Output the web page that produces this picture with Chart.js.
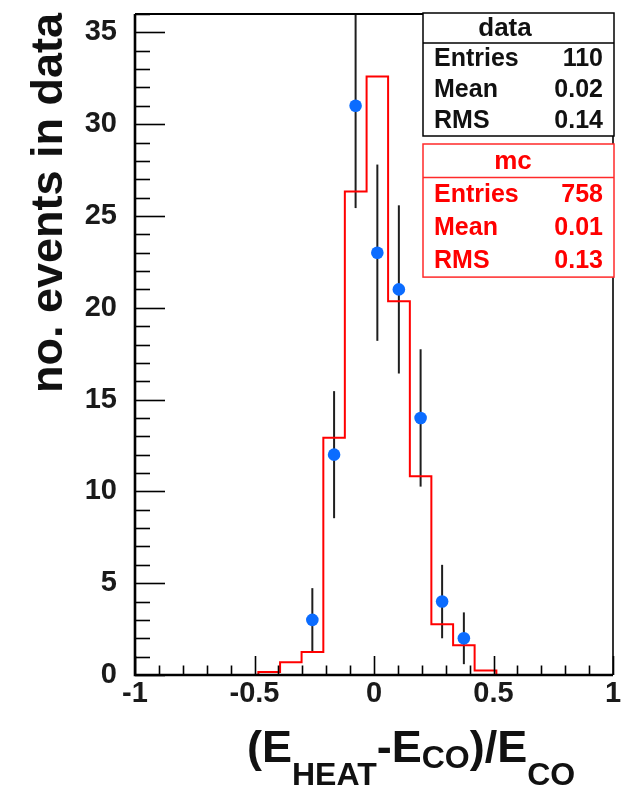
<!DOCTYPE html>
<html>
<head>
<meta charset="utf-8">
<script src="https://cdn.jsdelivr.net/npm/chart.js@4/dist/chart.umd.min.js"></script>
<style>
  html, body { margin: 0; padding: 0; background: #fff; }
  #wrap { width: 632px; height: 788px; }
</style>
</head>
<body>
<div id="wrap"><canvas id="histo" width="632" height="788"></canvas></div>
<script>
// measured events per bin (bin centres) with their statistical errors
const dataX = [-0.258, -0.167, -0.077, 0.014, 0.104, 0.195, 0.285, 0.376];
const dataCounts = [3, 12, 31, 23, 21, 14, 4, 2];
const dataErrors = [1.73, 3.46, 5.57, 4.80, 4.58, 3.74, 2.00, 1.41];

// simulation, scaled to the data: bin edges and the content between them
const mcEdges = [-1.03, -0.484, -0.393, -0.303, -0.212, -0.122, -0.031, 0.059, 0.150, 0.240, 0.331, 0.421, 0.512, 0.87];
const mcCounts = [0, 0.17, 0.70, 1.25, 12.92, 26.33, 32.6, 20.35, 10.83, 2.77, 1.62, 0.25, 0];

const xTicks = [-1, -0.5, 0, 0.5, 1];
const yTicks = [0, 5, 10, 15, 20, 25, 30, 35];

const dataStats = [['Entries', '110'], ['Mean', '0.02'], ['RMS', '0.14']];
const mcStats = [['Entries', '758'], ['Mean', '0.01'], ['RMS', '0.13']];

const FONT = '"Liberation Sans", Arial, Helvetica, sans-serif';
const BLUE = '#0b6cff';
const RED = '#ff0000';

// error bars go under the markers and the mc line
const errorBars = {
    id: 'errorBars',
    beforeDatasetsDraw(chart) {
        const { ctx, chartArea, scales: { x, y } } = chart;
        ctx.save();
        ctx.beginPath();
        ctx.rect(chartArea.left, chartArea.top, chartArea.right - chartArea.left, chartArea.bottom - chartArea.top);
        ctx.clip();
        ctx.strokeStyle = '#1e1e1e';
        ctx.lineWidth = 2;
        dataX.forEach((xv, i) => {
            const px = x.getPixelForValue(xv);
            ctx.beginPath();
            ctx.moveTo(px, y.getPixelForValue(dataCounts[i] - dataErrors[i]));
            ctx.lineTo(px, y.getPixelForValue(dataCounts[i] + dataErrors[i]));
            ctx.stroke();
        });
        ctx.restore();
    }
};

// frame, inward ticks, axis titles and the two stat boxes
const rootFrame = {
    id: 'rootFrame',
    afterDatasetsDraw(chart) {
        const { ctx, chartArea: a, scales: { x, y } } = chart;
        ctx.save();
        ctx.strokeStyle = '#000';

        // ticks on the y axis: major every 5, minor every 1
        ctx.lineWidth = 1.6;
        for (let v = 0; v <= 36; v++) {
            const py = Math.round(y.getPixelForValue(v)) + 0.5;
            const len = v % 5 === 0 ? 30 : 15;
            ctx.beginPath();
            ctx.moveTo(a.left, py);
            ctx.lineTo(a.left + len, py);
            ctx.stroke();
        }
        // ticks on the x axis: major every 0.5, minor every 0.1
        for (let k = -10; k <= 10; k++) {
            const px = Math.round(x.getPixelForValue(k / 10)) + 0.5;
            const len = k % 5 === 0 ? 19 : 9.5;
            ctx.beginPath();
            ctx.moveTo(px, a.bottom);
            ctx.lineTo(px, a.bottom - len);
            ctx.stroke();
        }

        // frame
        ctx.lineWidth = 2.6;
        ctx.beginPath();
        ctx.moveTo(a.left, a.top);
        ctx.lineTo(a.left, a.bottom);
        ctx.lineTo(a.right, a.bottom);
        ctx.stroke();
        ctx.lineWidth = 2;
        ctx.beginPath();
        ctx.moveTo(a.left, a.top);
        ctx.lineTo(a.right, a.top);
        ctx.stroke();
        ctx.lineWidth = 1.6;
        ctx.beginPath();
        ctx.moveTo(a.right, a.top);
        ctx.lineTo(a.right, a.bottom);
        ctx.stroke();
        ctx.restore();
    },
    afterDraw(chart) {
        const { ctx } = chart;
        ctx.save();
        ctx.fillStyle = '#111';

        // y title
        ctx.save();
        ctx.translate(62, 203);
        ctx.rotate(-Math.PI / 2);
        ctx.font = 'bold 45px ' + FONT;
        ctx.textAlign = 'center';
        ctx.textBaseline = 'alphabetic';
        ctx.fillText('no. events in data', 0, 0);
        ctx.restore();

        // x title, with subscripts
        const parts = [
            ['(', 45, 762], ['E', 45, 762], ['HEAT', 32, 785], ['-', 45, 762], ['E', 45, 762],
            ['CO', 32, 768], [')', 45, 762], ['/', 45, 762], ['E', 45, 762], ['CO', 32, 785]
        ];
        let cx = 247;
        ctx.textAlign = 'left';
        parts.forEach(([t, size, base]) => {
            ctx.font = 'bold ' + size + 'px ' + FONT;
            ctx.fillText(t, cx, base);
            cx += ctx.measureText(t).width;
        });

        drawStats(ctx, { top: 13, head: 30, row: 31, title: 'data', titleX: 505, rows: dataStats, color: '#111', border: '#000' });
        drawStats(ctx, { top: 144, head: 33.5, row: 33.2, title: 'mc', titleX: 513, rows: mcStats, color: RED, border: '#ff2a2a' });
        ctx.restore();
    }
};

function drawStats(ctx, s) {
    const left = 423, right = 614;
    const bottom = s.top + s.head + s.row * s.rows.length;
    ctx.save();
    ctx.fillStyle = '#fff';
    ctx.fillRect(left, s.top, right - left, bottom - s.top);
    ctx.strokeStyle = s.border;
    ctx.lineWidth = 1.5;
    ctx.strokeRect(left, s.top, right - left, bottom - s.top);
    ctx.beginPath();
    ctx.moveTo(left, s.top + s.head);
    ctx.lineTo(right, s.top + s.head);
    ctx.stroke();

    ctx.fillStyle = s.color;
    ctx.textBaseline = 'middle';
    ctx.font = 'bold 26px ' + FONT;
    ctx.textAlign = 'center';
    ctx.fillText(s.title, s.titleX, s.top + s.head / 2 + 1);
    ctx.font = 'bold 25px ' + FONT;
    s.rows.forEach(([label, value], i) => {
        const cy = s.top + s.head + s.row * (i + 0.5) + 1;
        ctx.textAlign = 'left';
        ctx.fillText(label, 434, cy);
        ctx.textAlign = 'right';
        ctx.fillText(value, 603, cy);
    });
    ctx.restore();
}

const tickFont = { family: FONT, weight: 'bold', size: 29 };

new Chart(document.getElementById('histo').getContext('2d'), {
    type: 'scatter',
    data: {
        datasets: [
            {
                label: 'data',
                data: dataX.map((x, i) => ({ x: x, y: dataCounts[i] })),
                pointRadius: 6.3,
                pointBackgroundColor: BLUE,
                pointBorderWidth: 0,
                showLine: false,
                order: 0
            },
            {
                label: 'mc',
                type: 'line',
                data: mcEdges.map((x, i) => ({ x: x, y: mcCounts[Math.min(i, mcCounts.length - 1)] })),
                stepped: true,
                borderColor: RED,
                borderWidth: 2,
                pointRadius: 0,
                fill: false,
                order: 1,
                clip: { left: 0, top: 0, right: 0, bottom: 2 }
            }
        ]
    },
    options: {
        responsive: false,
        animation: false,
        events: [],
        layout: { padding: { left: 0, top: 14, right: 19, bottom: 0 } },
        plugins: { legend: { display: false }, tooltip: { enabled: false } },
        scales: {
            x: {
                type: 'linear',
                min: -1,
                max: 1,
                afterFit: s => { s.height = 113; s.paddingLeft = 0; s.paddingRight = 0; },
                afterBuildTicks: s => { s.ticks = xTicks.map(v => ({ value: v })); },
                grid: { display: false, drawTicks: false },
                border: { display: false },
                ticks: { padding: 2, color: '#1a1a1a', font: tickFont, maxRotation: 0, autoSkip: false, callback: v => String(v) }
            },
            y: {
                min: 0,
                max: 36,
                afterFit: s => { s.width = 135; s.paddingTop = 0; s.paddingBottom = 0; },
                afterBuildTicks: s => { s.ticks = yTicks.map(v => ({ value: v })); },
                grid: { display: false, drawTicks: false },
                border: { display: false },
                ticks: { padding: 18, color: '#1a1a1a', font: tickFont, autoSkip: false, callback: v => String(v) }
            }
        }
    },
    plugins: [errorBars, rootFrame]
});
</script>
</body>
</html>
